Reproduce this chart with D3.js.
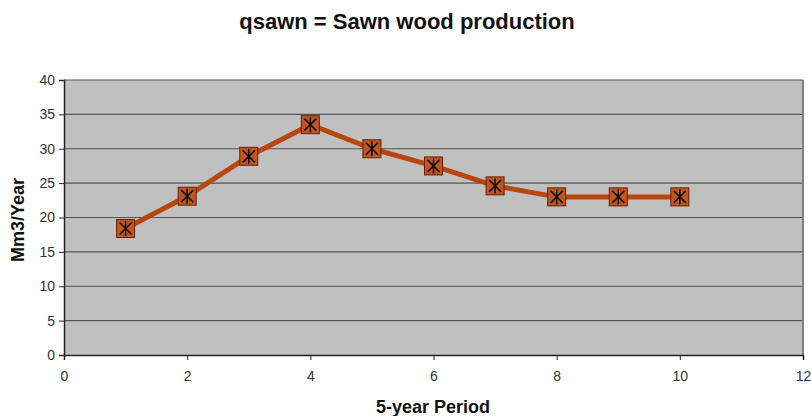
<!DOCTYPE html>
<html><head><meta charset="utf-8">
<script src="https://cdn.jsdelivr.net/npm/d3@7"></script>
<style>body{margin:0;background:#fff}svg{display:block}</style>
</head><body>
<svg id="c" width="811" height="416"></svg>
<script>
const periods = [1,2,3,4,5,6,7,8,9,10];
const qsawn = [18.4,23.1,28.9,33.5,30.0,27.5,24.6,23.0,23.0,23.0];
const xTicks = [0,2,4,6,8,10,12];
const yTicks = [0,5,10,15,20,25,30,35,40];
const title = "qsawn = Sawn wood production";
const xLabel = "5-year Period";
const yLabel = "Mm3/Year";

const svg = d3.select("#c");
const L = 64, R = 803, T = 80, B = 355;
const x = d3.scaleLinear().domain([0,12]).range([L,R]);
const y = d3.scaleLinear().domain([0,40]).range([B,T]);

svg.append("rect").attr("x",L).attr("y",T).attr("width",R-L).attr("height",B-T).attr("fill","#c0c0c0");
svg.append("g").selectAll("line").data(yTicks.filter(d=>d>0)).join("line")
  .attr("x1",L).attr("x2",R).attr("y1",d=>y(d)).attr("y2",d=>y(d))
  .attr("stroke","#555").attr("stroke-width",1.2);
svg.append("line").attr("x1",R).attr("x2",R).attr("y1",T).attr("y2",B).attr("stroke","#808080").attr("stroke-width",2);

const font = "Arial, 'Liberation Sans', sans-serif";
const ya = svg.append("g").attr("transform",`translate(${L},0)`)
  .call(d3.axisLeft(y).tickValues(yTicks).tickSize(5).tickPadding(4));
const xa = svg.append("g").attr("transform",`translate(0,${B})`)
  .call(d3.axisBottom(x).tickValues(xTicks).tickSize(5).tickPadding(11));
[ya,xa].forEach(a=>{
  a.select(".domain").attr("stroke","#222").attr("stroke-width",1.5);
  a.selectAll(".tick line").attr("stroke","#222");
  a.selectAll("text").attr("font-family",font).attr("font-size",14).attr("fill","#333");
});

const line = d3.line().x((d,i)=>x(periods[i])).y(d=>y(d));
svg.append("path").datum(qsawn).attr("d",line).attr("fill","none")
  .attr("stroke","#b8470f").attr("stroke-width",5).attr("stroke-linejoin","round");

const m = svg.append("g").selectAll("g").data(qsawn).join("g")
  .attr("transform",(d,i)=>`translate(${x(periods[i])},${y(d)})`);
const s = 9;
m.append("rect").attr("x",-s).attr("y",-s).attr("width",2*s).attr("height",2*s)
  .attr("fill","#c4541d").attr("stroke","#5a2208").attr("stroke-width",1);
const st = 7.5;
m.append("path").attr("d",`M0,${-st}V${st}M${-st*0.8},${-st*0.8}L${st*0.8},${st*0.8}M${-st*0.8},${st*0.8}L${st*0.8},${-st*0.8}`)
  .attr("stroke","#111").attr("stroke-width",1.6);

svg.append("text").attr("x",407).attr("y",29).attr("text-anchor","middle")
  .attr("font-family",font).attr("font-weight","bold").attr("font-size",22).attr("fill","#111").text(title);
svg.append("text").attr("x",433).attr("y",413).attr("text-anchor","middle")
  .attr("font-family",font).attr("font-weight","bold").attr("font-size",18).attr("fill","#111").text(xLabel);
svg.append("text").attr("transform","translate(24,220) rotate(-90)").attr("text-anchor","middle")
  .attr("font-family",font).attr("font-weight","bold").attr("font-size",18).attr("fill","#111").text(yLabel);
</script>
</body></html>
